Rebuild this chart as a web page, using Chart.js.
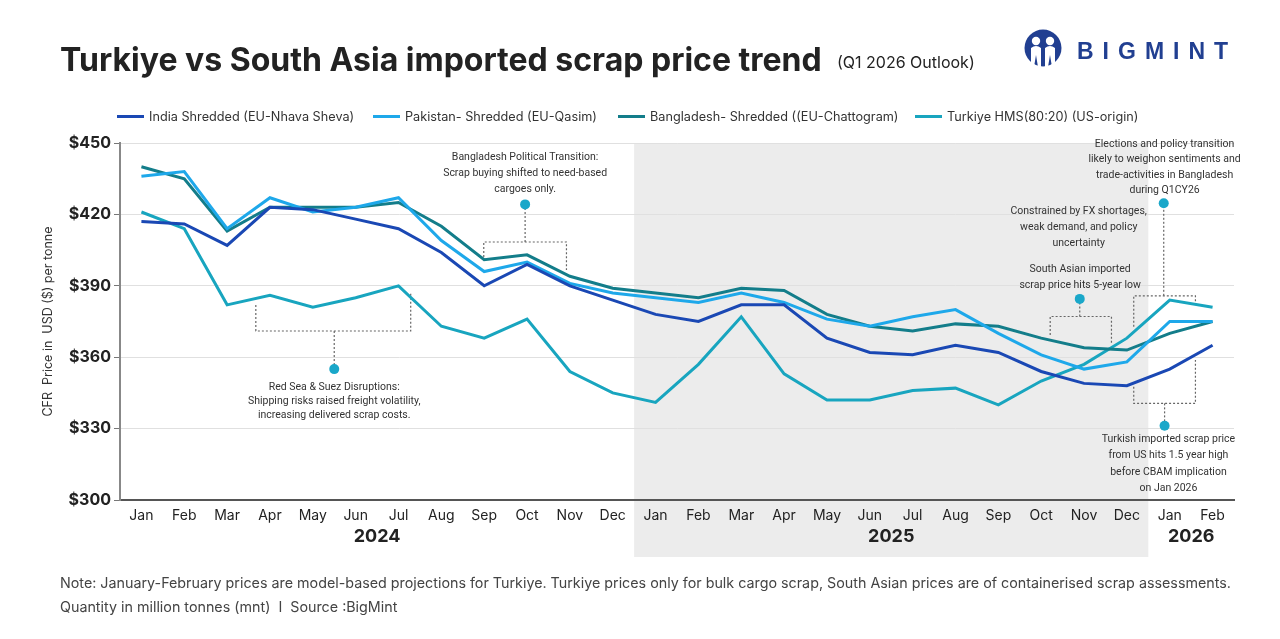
<!DOCTYPE html>
<html>
<head>
<meta charset="utf-8">
<script src="https://cdn.jsdelivr.net/npm/chart.js@4.4.1/dist/chart.umd.min.js"></script>
<style>
  html, body { margin: 0; padding: 0; background: #fff; }
  #page { position: relative; width: 1280px; height: 639px; overflow: hidden; font-family: Inter, "Liberation Sans", sans-serif; color: #222; }
  #chart-wrap { position: absolute; left: 0; top: 0; width: 1280px; height: 639px; }
  .abs { position: absolute; white-space: nowrap; }
  #title { left: 60px; top: 44px; font-size: 32px; line-height: 32px; font-weight: 700; color: #222; }
  #subtitle { left: 837px; top: 54px; font-size: 16px; line-height: 17px; color: #222; }
  #logo-text { left: 1077px; top: 39px; font-size: 23px; line-height: 24px; font-weight: 800; letter-spacing: 9px; color: #213f91; font-family: "Liberation Sans", Arial, sans-serif; }
  .leg { top: 109px; font-size: 12.7px; line-height: 16px; color: #333; }
  .leg i { display: inline-block; width: 27px; height: 3px; vertical-align: middle; margin-right: 5px; position: relative; top: -1px; }
  .foot { left: 60px; font-size: 14.3px; line-height: 16px; color: #444; }
</style>
</head>
<body>
<div id="page">
  <div id="chart-wrap"><canvas id="chart"></canvas></div>
  <div id="title" class="abs">Turkiye vs South Asia imported scrap price trend</div>
  <div id="subtitle" class="abs">(Q1 2026 Outlook)</div>
  <svg class="abs" style="left:1024px;top:29px" width="38" height="38" viewBox="0 0 38 38">
    <circle cx="19" cy="19" r="18.5" fill="#213f91"/>
    <circle cx="12" cy="12" r="4.2" fill="#fff"/>
    <circle cx="26" cy="12" r="4.2" fill="#fff"/>
    <path d="M7 19 Q12 15 17 19 L17 38 L14 38 L12 26 L10 38 L7 38 Z" fill="#fff"/>
    <path d="M21 19 Q26 15 31 19 L31 38 L28 38 L26 26 L24 38 L21 38 Z" fill="#fff"/>
  </svg>
  <div id="logo-text" class="abs">BIGMINT</div>
  <div id="legend"></div>
  <div class="abs foot" style="top:575px">Note: January-February prices are model-based projections for Turkiye. Turkiye prices only for bulk cargo scrap, South Asian prices are of containerised scrap assessments.</div>
  <div class="abs foot" style="top:599px">Quantity in million tonnes (mnt)&nbsp; I&nbsp; Source :BigMint</div>
</div>
<script>
// 월별 카테고리 (2024-01 ~ 2026-02)
const months = ["Jan","Feb","Mar","Apr","May","Jun","Jul","Aug","Sep","Oct","Nov","Dec",
                "Jan","Feb","Mar","Apr","May","Jun","Jul","Aug","Sep","Oct","Nov","Dec",
                "Jan","Feb"];
const years = [["2024", 0, 11], ["2025", 12, 23], ["2026", 24, 25]];

const seriesNames = [
  "India Shredded (EU-Nhava Sheva)",
  "Pakistan- Shredded (EU-Qasim)",
  "Bangladesh- Shredded ((EU-Chattogram)",
  "Turkiye HMS(80:20) (US-origin)"
];
const seriesColors = ["#1a48b4", "#1ea8ea", "#137d8a", "#18a5bf"];

const india      = [417,416,407,423,422,418,414,404,390,399,390,384, 378,375,382,382,368,362,361,365,362,354,349,348, 355,365];
const pakistan   = [436,438,414,427,421,423,427,409,396,400,391,387, 385,383,387,383,376,373,377,380,370,361,355,358, 375,375];
const bangladesh = [440,435,413,423,423,423,425,415,401,403,394,389, 387,385,389,388,378,373,371,374,373,368,364,363, 370,375];
const turkiye    = [421,414,382,386,381,385,390,373,368,376,354,345, 341,357,377,353,342,342,346,347,340,350,357,368, 384,381];

const yTicks = [300, 330, 360, 390, 420, 450];

// 주석 (x = 월 index, y = 가격)
const notes = [
  { bracket: [2.67, 6.285, 371.0, 381.9, 387.2], stem: [4.5, 371.0, 355.0], dot: [4.5, 355.0],
    text: [4.5, 347.4, 14], lines: ["Red Sea & Suez Disruptions:", "Shipping risks raised freight volatility,", "increasing delivered scrap costs."] },
  { bracket: [7.99, 9.92, 408.4, 402.1, 396.6], stem: [8.955, 408.4, 424.2], dot: [8.955, 424.2],
    text: [8.955, 444.1, 16], lines: ["Bangladesh Political Transition:", "Scrap buying shifted to need-based", "cargoes only."] },
  { bracket: [21.21, 22.64, 377.1, 369.3, 365.5], stem: [21.9, 377.1, 384.5], dot: [21.9, 384.5],
    text: [21.91, 396.9, 15.7], lines: ["South Asian imported", "scrap price hits 5-year low"] },
  { text: [21.875, 421.1, 15.8], lines: ["Constrained by FX shortages,", "weak demand, and policy", "uncertainty"] },
  { bracket: [23.16, 24.6, 385.8, 372.8, 383.3], stem: [23.86, 385.8, 424.7], dot: [23.86, 424.7],
    text: [23.88, 449.5, 15.5], lines: ["Elections and policy transition", "likely to weighon sentiments and", "trade-activities in Bangladesh", "during Q1CY26"] },
  { bracket: [23.16, 24.6, 340.6, 347.6, 358.8], stem: [23.88, 340.6, 331.2], dot: [23.88, 331.2],
    text: [23.97, 325.6, 16.5], lines: ["Turkish imported scrap price", "from US hits 1.5 year high", "before CBAM implication", "on Jan 2026"] }
];

// 범례
const legendX = [117, 373, 618, 915];
document.getElementById("legend").innerHTML = seriesNames.map((n, i) =>
  `<div class="abs leg" style="left:${legendX[i]}px"><i style="background:${seriesColors[i]}"></i>${n}</div>`
).join("");

const shadePlugin = {
  id: "shade2025",
  beforeDraw(chart) {
    const { ctx, scales: { x }, chartArea } = chart;
    const l = (x.getPixelForValue(11) + x.getPixelForValue(12)) / 2;
    const r = (x.getPixelForValue(23) + x.getPixelForValue(24)) / 2;
    ctx.save();
    ctx.fillStyle = "#ececec";
    ctx.fillRect(l, chartArea.top, r - l, 557 - chartArea.top);
    ctx.restore();
  }
};

const notesPlugin = {
  id: "notes",
  beforeDatasetsDraw(chart) {
    const { ctx, scales: { x, y } } = chart;
    const px = v => x.getPixelForValue(v);
    const py = v => y.getPixelForValue(v);
    ctx.save();
    ctx.strokeStyle = "#666";
    ctx.lineWidth = 1.2;
    ctx.setLineDash([2, 2]);
    for (const n of notes) {
      if (n.bracket) {
        const [x1, x2, yy, y1, y2] = n.bracket;
        ctx.beginPath();
        ctx.moveTo(px(x1), py(y1));
        ctx.lineTo(px(x1), py(yy));
        ctx.lineTo(px(x2), py(yy));
        ctx.lineTo(px(x2), py(y2));
        ctx.stroke();
      }
      if (n.stem) {
        const [sx, s1, s2] = n.stem;
        ctx.beginPath();
        ctx.moveTo(px(sx), py(s1));
        ctx.lineTo(px(sx), py(s2));
        ctx.stroke();
      }
    }
    ctx.setLineDash([]);
    ctx.font = "10.5px Roboto, sans-serif";
    ctx.fillStyle = "#333";
    ctx.textAlign = "center";
    ctx.textBaseline = "middle";
    for (const n of notes) {
      const [tx, ty, gap] = n.text;
      n.lines.forEach((line, i) => ctx.fillText(line, px(tx), py(ty) + i * gap));
      if (n.dot) {
        ctx.beginPath();
        ctx.arc(px(n.dot[0]), py(n.dot[1]), 5, 0, Math.PI * 2);
        ctx.fillStyle = "#1aa7c9";
        ctx.fill();
        ctx.fillStyle = "#333";
      }
    }
    ctx.restore();
  },
  afterDraw(chart) {
    const { ctx, scales: { x } } = chart;
    ctx.save();
    ctx.font = "bold 18px Inter, sans-serif";
    ctx.fillStyle = "#222";
    ctx.textAlign = "center";
    ctx.textBaseline = "middle";
    for (const [label, a, b] of years) {
      ctx.fillText(label, (x.getPixelForValue(a) + x.getPixelForValue(b)) / 2, 537);
    }
    ctx.restore();
  }
};

const seriesData = [india, pakistan, bangladesh, turkiye];

new Chart(document.getElementById("chart"), {
  type: "line",
  data: {
    labels: months,
    datasets: seriesData.map((d, i) => ({
      label: seriesNames[i],
      data: d,
      borderColor: seriesColors[i],
      backgroundColor: seriesColors[i],
      borderWidth: 3,
      pointRadius: 0,
      tension: 0
    }))
  },
  options: {
    responsive: true,
    maintainAspectRatio: false,
    animation: false,
    layout: { padding: { left: 0, top: 143, right: 46, bottom: 0 } },
    plugins: { legend: { display: false }, tooltip: { enabled: false } },
    scales: {
      x: {
        offset: true,
        grid: { display: false, drawTicks: false },
        border: { color: "#555", width: 2 },
        ticks: { color: "#222", font: { family: "Inter", size: 14 }, padding: 7, maxRotation: 0, autoSkip: false },
        afterFit: s => { s.height = 139; }
      },
      y: {
        min: 300, max: 450,
        afterBuildTicks: s => { s.ticks = yTicks.map(v => ({ value: v })); },
        grid: { color: "#e0e0e0", tickLength: 6, tickColor: "#777" },
        border: { color: "#888", width: 2 },
        ticks: { color: "#222", font: { family: "Inter", size: 16, weight: "bold" }, padding: 3, callback: v => "$" + v },
        title: { display: true, text: "CFR  Price in  USD ($) per tonne", color: "#333", font: { family: "Inter", size: 12.5 }, padding: { top: 41, bottom: 0 } },
        afterFit: s => { s.width = 120; }
      }
    }
  },
  plugins: [shadePlugin, notesPlugin]
});
</script>
</body>
</html>
